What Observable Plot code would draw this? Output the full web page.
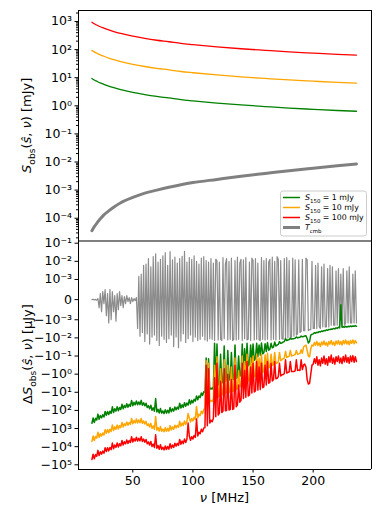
<!DOCTYPE html>
<html><head><meta charset="utf-8">
<script src="https://cdn.jsdelivr.net/npm/d3@7"></script>
<script src="https://cdn.jsdelivr.net/npm/@observablehq/plot@0.6"></script>
<style>
body{margin:0;background:#fff;}
#chart{width:390px;height:521px;font-family:"DejaVu Sans",sans-serif;}
#chart svg{display:block;}
</style></head><body><div id="chart"></div>
<script>
// ---------- top panel data (mJy) ----------
const freqTop = [16,18,20,23,26,30,35,40,50,60,70,80,90,100,120,140,160,180,200,220,236];
const sObs1   = [9.4,8.3,7.5,6.5,5.8,5.0,4.3,3.75,3.0,2.5,2.15,1.9,1.66,1.5,1.25,1.07,0.94,0.83,0.75,0.68,0.64];
const sObs10  = [94,83,75,65,58,50,43,37.5,30,25,21.5,19,16.6,15,12.5,10.7,9.4,8.3,7.5,6.8,6.4];
const sObs100 = [940,830,750,650,580,500,430,375,300,250,215,190,166,150,125,107,94,83,75,68,64];
const tCmb    = [3.6e-5,5.0e-5,6.6e-5,9.5e-5,1.32e-4,1.82e-4,2.63e-4,3.55e-4,5.5e-4,7.8e-4,1.0e-3,1.26e-3,1.55e-3,1.85e-3,2.4e-3,3.1e-3,3.9e-3,4.9e-3,6.0e-3,7.3e-3,8.5e-3];

// ---------- bottom panel data (μJy), one value per MHz ----------
const freq = [16,17,18,19,20,21,22,23,24,25,26,27,28,29,30,31,32,33,34,35,36,37,38,39,40,41,42,43,44,45,
46,47,48,49,50,51,52,53,54,55,56,57,58,59,60,61,62,63,64,65,66,67,68,69,70,71,72,73,74,75,
76,77,78,79,80,81,82,83,84,85,86,87,88,89,90,91,92,93,94,95,96,97,98,99,100,101,102,103,104,105,
106,107,108,109,110,111,112,113,114,115,116,117,118,119,120,121,122,123,124,125,126,127,128,129,130,131,132,133,134,135,
136,137,138,139,140,141,142,143,144,145,146,147,148,149,150,151,152,153,154,155,156,157,158,159,160,161,162,163,164,165,
166,167,168,169,170,171,172,173,174,175,176,177,178,179,180,181,182,183,184,185,186,187,188,189,190,191,192,193,194,195,
196,197,198,199,200,201,202,203,204,205,206,207,208,209,210,211,212,213,214,215,216,217,218,219,220,221,222,223,224,225,
226,227,228,229,230,231,232,233,234,235,236];

const dsCmb = [0,2e-5,-2e-5,1e-5,-3e-5,5e-5,-4e-4,3e-4,-6e-4,4e-4,
-2e-4,5e-4,-8e-4,3e-4,-1.5e-3,5e-4,-1e-3,4e-4,-6e-4,2e-4,
-1.2e-3,3e-4,-5e-4,4e-4,-3e-4,2e-4,-4e-4,1.5e-4,-2e-4,2e-4,
-1e-4,1e-4,-2e-4,1e-4,-1e-4,5e-5,-5e-5,1e-4,-3e-3,1.5e-3,
-8e-3,2e-3,-5e-3,6e-3,-1.6e-2,7e-3,-6e-3,1.4e-2,-2.2e-2,5e-3,
-9e-3,1.8e-2,-7e-3,2.6e-2,-1.4e-2,9e-3,-2.6e-2,1.3e-2,-8e-3,2e-2,
-1.2e-2,3e-2,-1.8e-2,6e-3,-1.1e-2,3.4e-2,-7e-3,1.2e-2,-3e-2,1.7e-2,
-9e-3,8e-3,-3.5e-2,1.4e-2,-1.5e-2,1.9e-2,-6e-3,3.6e-2,-1.8e-2,9e-3,
-1.1e-2,1.6e-2,-7e-3,1.3e-2,-1.6e-2,2e-2,-9e-3,1e-2,-1.4e-2,7e-3,
-1.2e-2,1.5e-2,-8e-3,1.8e-2,-1.3e-2,1.1e-2,-1.5e-2,9e-3,-1.1e-2,1.4e-2,
-1.2e-2,8e-3,-1.4e-2,1.3e-2,1.1e-2,-1.3e-2,9e-3,-1.2e-2,-1.4e-2,1.6e-2,
-1.1e-2,7e-3,1.4e-2,-1.3e-2,1e-2,-1.2e-2,1.5e-2,-1.4e-2,-1.2e-2,1.1e-2,
-1.3e-2,1.7e-2,-1.2e-2,8e-3,1.3e-2,-1.4e-2,1.2e-2,-1.1e-2,1.6e-2,-1.3e-2,
-1.2e-2,9e-3,-1.4e-2,1.5e-2,1.1e-2,-1.3e-2,1.4e-2,-1.2e-2,8e-3,-1.3e-2,
-1.4e-2,1.6e-2,-1.2e-2,1.1e-2,-1.3e-2,1.4e-2,-1.2e-2,9e-3,1.3e-2,-1.3e-2,
1.7e-2,-1.2e-2,1e-2,-1.3e-2,1.8e-2,1.3e-2,-1.2e-2,1.1e-2,-1.1e-2,-1.2e-2,
1.4e-2,-1.1e-2,1.6e-2,-1e-2,1.1e-2,-1e-2,-9e-3,1.5e-2,-8e-3,1.2e-2,
-7e-3,-6e-3,1.2e-2,-5e-3,-4.5e-3,1.3e-2,-4e-3,-4e-3,1.5e-2,1.2e-2,
-4e-3,-3.5e-3,-3.5e-3,1e-2,-3e-3,-3e-3,6e-3,-3e-3,8e-3,-2.5e-3,
-3e-3,5e-3,-2.5e-3,7e-3,-2.5e-3,-2.5e-3,4e-3,-2.5e-3,6e-3,-2e-3,
5e-3,-2e-3,-2e-3,3e-3,-2e-3,4e-3,-2e-3,2e-3,-2e-3,4e-3,
-2e-3,-1.5e-3,3e-3,-1.5e-3,5e-3,-1.5e-3,-1.5e-3,2e-3,-1.5e-3,3e-3,
-1.5e-3];

const dsS1 = [-510,-260,-460,-275,-340,-160,-310,-190,-260,-175,
-230,-115,-185,-115,-170,-110,-145,-63,-130,-81,
-110,-63,-105,-69,-89,-46,-81,-54,-69,-43,
-66,-46,-59,-28,-55,-36,-49,-30,-49,-34,
-48,-28,-52,-38,-56,-40,-69,-55,-81,-52,
-98,-72,-110,-22,-123,-87,-138,-78,-141,-107,
-151,-91,-141,-98,-138,-69,-120,-81,-110,-65,
-93,-66,-85,-40,-74,-49,-68,-38,-58,-39,
-51,-26,-44,-28,-38,-24,-31,-16,-26,-16,
-19.5,-11,-15,-9.3,
-10,-0.13,-7.9,-0.14,-7.1,-6.0,-6.6,-5.0,-0.02,-4.6,
-0.022,-4.0,-3.6,-0.079,-3.2,-2.8,-0.028,-2.5,-2.3,-0.05,
-2.1,-2.0,-0.063,-1.9,-2.0,-0.025,-1.7,-1.5,-0.1,-1.3,
-1.1,-0.022,-0.79,-0.04,-0.5,-0.02,-0.35,-0.28,-0.025,-0.22,
-0.022,-0.17,-0.14,-0.02,-0.11,-0.025,-0.089,-0.019,-0.076,-0.066,
-0.021,-0.056,-0.018,-0.048,-0.042,-0.02,-0.035,-0.032,-0.017,-0.028,
-0.025,-0.023,-0.016,-0.02,-0.019,-0.017,-0.016,-0.011,-0.014,-0.013,
-0.0125,-0.0105,-0.0117,-0.0112,-0.011,-0.0105,-0.0089,-0.01,-0.0095,-0.0093,
-0.0079,-0.0087,-0.0083,-0.0079,-0.0076,-0.0112,-0.019,-0.016,-0.0071,-0.0063,
-0.006,-0.0052,-0.0055,-0.0049,-0.0051,-0.0045,-0.0047,-0.0042,-0.0044,-0.0039,
-0.0041,-0.0036,-0.0038,-0.0034,-0.0035,-0.0032,-0.0033,-0.003,-0.0032,-0.0028,
-0.003,-0.0026,-0.0028,-0.00026,-0.0026,-0.00245,-0.0026,-0.0023,-0.0025,-0.0023,
-0.00245,-0.0022,-0.0024,-0.0022,-0.0023,-0.0021,-0.0023];

const dsS10 = [-5100,-2600,-4600,-2750,-3400,-1600,-3100,-1900,-2600,-1750,
-2300,-1150,-1850,-1150,-1700,-1100,-1450,-630,-1300,-810,
-1100,-630,-1050,-690,-890,-460,-810,-540,-690,-430,
-660,-460,-590,-280,-550,-360,-490,-300,-490,-340,
-480,-280,-520,-380,-560,-400,-690,-550,-810,-520,
-980,-720,-1100,-220,-1230,-870,-1380,-780,-1410,-1070,
-1510,-910,-1410,-980,-1380,-690,-1200,-810,-1100,-650,
-930,-660,-850,-400,-740,-490,-680,-380,-580,-390,
-150,-260,-440,-280,-380,-240,-310,-60,-260,-160,
-195,-110,-150,-93,
-71,-0.18,-45,-0.25,-35,-28,-32,-24,-0.32,-20,
-0.11,-18,-16,-0.5,-14,-13,-0.16,-11,-10,-0.32,
-10,-8.9,-0.4,-8.9,-8.3,-0.13,-7.1,-6.3,-0.63,-5.0,
-4.2,-0.1,-3.5,-0.2,-2.8,-0.079,-2.4,-2.2,-0.13,-1.8,
-0.1,-1.4,-1.25,-0.079,-1.1,-0.13,-1.0,-0.079,-0.79,-0.71,
-0.089,-0.56,-0.071,-0.45,-0.4,-0.079,-0.33,-0.3,-0.063,-0.26,
-0.24,-0.21,-0.063,-0.18,-0.16,-0.14,-0.13,-0.056,-0.12,-0.11,
-0.105,-0.05,-0.1,-0.093,-0.089,-0.083,-0.05,-0.079,-0.076,-0.072,
-0.045,-0.071,-0.032,-0.028,-0.025,-0.05,-0.1,-0.11,-0.04,-0.025,
-0.028,-0.018,-0.025,-0.016,-0.026,-0.019,-0.03,-0.017,-0.024,-0.015,
-0.025,-0.018,-0.028,-0.016,-0.022,-0.014,-0.024,-0.017,-0.026,-0.015,
-0.022,-0.014,-0.023,-0.016,-0.025,-0.014,-0.021,-0.013,-0.022,-0.015,
-0.024,-0.014,-0.02,-0.013,-0.021,-0.014,-0.019];

const dsS100 = [-51000,-26000,-46000,-27500,-34000,-16000,-31000,-19000,-26000,-17500,
-23000,-11500,-18500,-11500,-17000,-11000,-14500,-6300,-13000,-8100,
-11000,-6300,-10500,-6900,-8900,-4600,-8100,-5400,-6900,-4300,
-6600,-4600,-5900,-2800,-5500,-3600,-4900,-3000,-4900,-3400,
-4800,-2800,-5200,-3800,-5600,-4000,-6900,-5500,-8100,-5200,
-9800,-7200,-11000,-2200,-12300,-8700,-13800,-7800,-14100,-10700,
-15100,-9100,-14100,-9800,-13800,-6900,-12000,-8100,-11000,-6500,
-9300,-6600,-8500,-4000,-7400,-4900,-6800,-3800,-5800,-3900,
-500,-2600,-4400,-2800,-3800,-2400,-3100,-300,-2600,-1600,
-1950,-1100,-1500,-930,
-890,-0.32,-710,-0.5,-500,-350,-420,-280,-1.6,-220,
-0.25,-180,-140,-2.5,-130,-110,-0.5,-105,-100,-1.0,
-95,-89,-2.0,-89,-79,-0.32,-63,-50,-4.0,-35,
-28,-0.25,-22,-0.63,-19,-0.2,-16,-14,-0.4,-11,
-0.25,-9.5,-8.3,-0.2,-7.6,-0.4,-7.1,-0.25,-5.6,-5.0,
-0.32,-4.0,-0.2,-3.2,-2.8,-0.25,-2.4,-2.0,-0.2,-1.8,
-1.7,-1.4,-0.25,-1.25,-1.1,-1.05,-0.95,-0.16,-0.87,-0.79,
-0.76,-0.2,-0.72,-0.71,-0.72,-0.66,-0.16,-0.63,-0.6,-0.63,
-0.16,-0.56,-0.32,-0.28,-0.4,-2.0,-3.5,-3.2,-1.0,-0.32,
-0.28,-0.14,-0.25,-0.11,-0.32,-0.16,-0.35,-0.13,-0.25,-0.1,
-0.28,-0.14,-0.32,-0.11,-0.22,-0.089,-0.25,-0.13,-0.28,-0.11,
-0.2,-0.1,-0.24,-0.13,-0.26,-0.105,-0.21,-0.089,-0.22,-0.12,
-0.25,-0.1,-0.2,-0.095,-0.22,-0.11,-0.2];

// ---------- ticks & labels ----------
const xTicks = [50,100,150,200];
const topTicks = [1e-4,1e-3,1e-2,1e-1,1,10,100,1000];
const topTickLabels = ["10⁻⁴","10⁻³","10⁻²","10⁻¹","10⁰","10¹","10²","10³"];
const bottomTicks = [1e-1,1e-2,1e-3,0,-1e-3,-1e-2,-1e-1,-1,-10,-100,-1000,-1e4,-1e5];
const bottomTickLabels = ["10⁻¹","10⁻²","10⁻³","0","−10⁻³","−10⁻²","−10⁻¹","−10⁰","−10¹","−10²","−10³","−10⁴","−10⁵"];
const legendLabels = ["1 mJy","10 mJy","100 mJy"];
const colors = {s1:"#008000", s10:"#ffa500", s100:"#ff0000", cmb:"#808080"};

// matplotlib-style symlog (linthresh 1e-3, linscale 1)
const C = 1e-3, LS = 1 / (1 - 0.1);
function symlog(v){ const a = Math.abs(v); return a <= C ? v / C * LS : Math.sign(v) * (LS + Math.log10(a / C)); }

const xDomain = [4.85, 248.5];
const font = "'DejaVu Sans', sans-serif";
const hasAxisMarks = typeof Plot.axisY === "function";

// ---------- top panel ----------
const topLabelMap = new Map(topTicks.map((t, i) => [t, topTickLabels[i]]));
const minorTicks = [];
for (let k = -5; k <= 3; k++) for (let j = 2; j <= 9; j++) { const v = j * 10 ** k; if (v > 10 ** -4.811 && v < 10 ** 3.391) minorTicks.push(v); }
const idxTop = freqTop.map((_, i) => i);
const topLine = (vals, color, w) => Plot.line(idxTop, {x: i => freqTop[i], y: i => vals[i], stroke: color, strokeWidth: w, curve: "monotone-x"});
const topMarks = [
  topLine(sObs1, colors.s1, 1.3),
  topLine(sObs10, colors.s10, 1.3),
  topLine(sObs100, colors.s100, 1.3),
  topLine(tCmb, colors.cmb, 3),
  Plot.frame({stroke: "black", strokeWidth: 1})
];
if (hasAxisMarks) {
  topMarks.push(Plot.axisY({ticks: topTicks, tickFormat: d => topLabelMap.get(d), tickSize: 3.5, tickPadding: 3, label: null}));
  topMarks.push(Plot.axisY({ticks: minorTicks, tickSize: 2, tickFormat: () => "", label: null}));
}
const topPlot = Plot.plot({
  width: 390, height: 241,
  marginTop: 10, marginBottom: 0.5, marginLeft: 78, marginRight: 19,
  style: {fontFamily: font, fontSize: "12.5px", background: "white", overflow: "visible", color: "black"},
  x: {domain: xDomain, axis: null},
  y: {type: "log", domain: [10 ** -4.811, 10 ** 3.391], ticks: topTicks, tickFormat: d => topLabelMap.get(d), tickSize: 3.5, tickPadding: 3, label: null},
  marks: topMarks
});

// ---------- bottom panel ----------
const botLabelMap = new Map(bottomTicks.map((t, i) => [symlog(t), bottomTickLabels[i]]));
const idx = freq.map((_, i) => i);
const botLine = (vals, color, w, op) => Plot.line(idx, {x: i => freq[i], y: i => symlog(vals[i]), stroke: color, strokeWidth: w, strokeOpacity: op});
const yBot = [-9.37, 3.205];
const bottomPlot = Plot.plot({
  width: 390, height: 280,
  marginTop: 0, marginBottom: 52, marginLeft: 78, marginRight: 19,
  style: {fontFamily: font, fontSize: "12.5px", background: "white", overflow: "visible", color: "black"},
  x: {domain: xDomain, ticks: xTicks, tickSize: 3.5, tickPadding: 3, label: null},
  y: {domain: yBot, ticks: bottomTicks.map(symlog), tickFormat: d => botLabelMap.get(d), tickSize: 3.5, tickPadding: 3, label: null},
  marks: [
    botLine(dsCmb, colors.cmb, 1.2, 0.9),
    botLine(dsS1, colors.s1, 1.5, 1),
    botLine(dsS10, colors.s10, 1.5, 1),
    botLine(dsS100, colors.s100, 1.5, 1),
    Plot.ruleX(xDomain, {stroke: "black", strokeWidth: 1}),
    Plot.ruleY([yBot[0]], {stroke: "black", strokeWidth: 1})
  ]
});

const chart = document.getElementById("chart");
chart.appendChild(topPlot);
chart.appendChild(bottomPlot);

// ---------- rich text (labels, legend) ----------
function richText(parent, x, y, rotate, size, parts, anchor) {
  const t = parent.append("text")
    .attr("transform", `translate(${x},${y})` + (rotate ? ` rotate(${rotate})` : ""))
    .attr("text-anchor", anchor || "middle").attr("font-size", size)
    .attr("font-family", font).attr("fill", "black");
  let shift = 0;
  for (const p of parts) {
    const ts = t.append("tspan").text(p.t);
    if (p.i) ts.attr("font-style", "italic");
    const target = p.sub ? size * 0.3 : 0;
    if (target !== shift) { ts.attr("dy", target - shift); shift = target; }
    if (p.sub) ts.attr("font-size", size * 0.7);
  }
  return t;
}
const topSvg = d3.select(topPlot.tagName.toLowerCase() === "svg" ? topPlot : topPlot.querySelector("svg"));
const botSvg = d3.select(bottomPlot.tagName.toLowerCase() === "svg" ? bottomPlot : bottomPlot.querySelector("svg"));

richText(topSvg, 31, 125.3, -90, 13, [{t:"S",i:1},{t:"obs",sub:1},{t:"("},{t:"ŝ",i:1},{t:", "},{t:"ν",i:1},{t:") [mJy]"}]);
richText(botSvg, 32, 113, -90, 13, [{t:"Δ"},{t:"S",i:1},{t:"obs",sub:1},{t:"("},{t:"ŝ",i:1},{t:", "},{t:"ν",i:1},{t:") [μJy]"}]);
richText(botSvg, 224.5, 261, 0, 13, [{t:"ν",i:1},{t:" [MHz]"}]);

// legend
const lg = topSvg.append("g");
lg.append("rect").attr("x", 280.5).attr("y", 191).attr("width", 86).attr("height", 45).attr("rx", 2.5)
  .attr("fill", "white").attr("fill-opacity", 0.8).attr("stroke", "#cccccc").attr("stroke-width", 1);
const rows = [
  {c: colors.s1, w: 1.5, parts: [{t:"S",i:1},{t:"150",sub:1},{t:" = " + legendLabels[0]}]},
  {c: colors.s10, w: 1.5, parts: [{t:"S",i:1},{t:"150",sub:1},{t:" = " + legendLabels[1]}]},
  {c: colors.s100, w: 1.5, parts: [{t:"S",i:1},{t:"150",sub:1},{t:" = " + legendLabels[2]}]},
  {c: colors.cmb, w: 3, parts: [{t:"T",i:1},{t:"cmb",sub:1}]}
];
const rowY = [197.5, 207.5, 217.5, 227.5];
rows.forEach((r, i) => {
  lg.append("line").attr("x1", 283).attr("x2", 300).attr("y1", rowY[i]).attr("y2", rowY[i])
    .attr("stroke", r.c).attr("stroke-width", r.w);
  richText(lg, 305, rowY[i] + 2.8, 0, 7.8, r.parts, "start");
});
</script>
</body></html>
